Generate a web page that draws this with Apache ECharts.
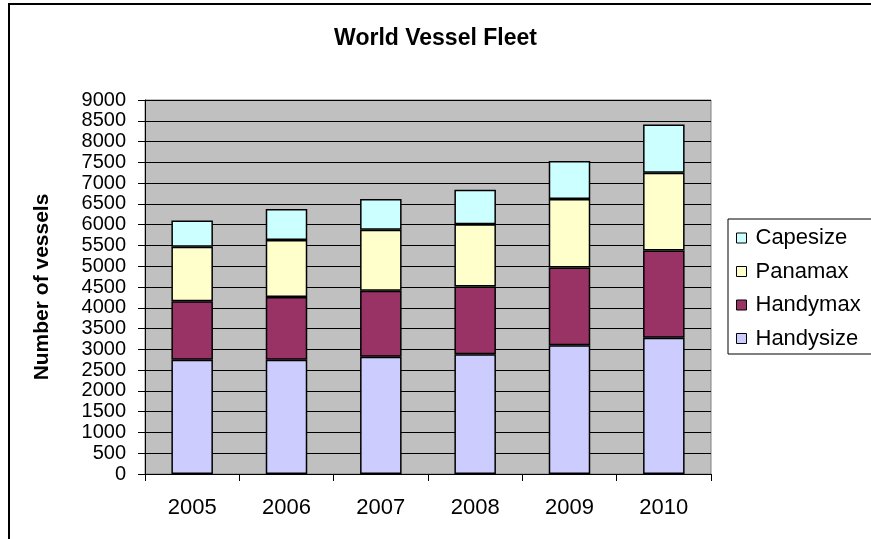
<!DOCTYPE html>
<html>
<head>
<meta charset="utf-8">
<script src="https://cdn.jsdelivr.net/npm/echarts@6/dist/echarts.min.js"></script>
<style>
  html, body { margin: 0; padding: 0; background: #fff; }
  #chart { width: 871px; height: 539px; }
</style>
</head>
<body>
<div id="chart"></div>
<script>
const years = ['2005', '2006', '2007', '2008', '2009', '2010']
const handysize = [2750, 2750, 2820, 2880, 3100, 3280]
const handymax = [1410, 1510, 1590, 1630, 1870, 2100]
const panamax = [1310, 1370, 1470, 1500, 1650, 1870]
const capesize = [630, 750, 740, 830, 910, 1160]

const font = "'Liberation Sans', Arial, sans-serif"

function stackSeries(name, data, color) {
  return {
    name: name,
    type: 'bar',
    stack: 'fleet',
    barWidth: '44%',
    data: data,
    itemStyle: { color: color, borderColor: '#000', borderWidth: 1.5 }
  }
}

const chart = echarts.init(document.getElementById('chart'))
chart.setOption({
  animation: false,
  textStyle: { fontFamily: font },
  title: {
    text: 'World Vessel Fleet',
    left: 'center',
    top: 22,
    textStyle: { fontFamily: font, fontSize: 23, fontWeight: 'bold', color: '#000' }
  },
  graphic: [
    {
      type: 'rect',
      shape: { x: 9, y: 4, width: 880, height: 560 },
      style: { fill: 'none', stroke: '#000', lineWidth: 2 }
    },
    {
      type: 'rect',
      shape: { x: 728, y: 219, width: 150, height: 135 },
      style: { fill: '#fff', stroke: '#000', lineWidth: 1 },
      z: 0
    }
  ],
  legend: {
    data: ['Capesize', 'Panamax', 'Handymax', 'Handysize'],
    orient: 'vertical',
    left: 728,
    top: 219,
    padding: [8, 8, 6, 8],
    itemWidth: 10,
    itemHeight: 10,
    itemGap: 11.5,
    icon: 'rect',
    itemStyle: { borderColor: '#000', borderWidth: 1 },
    textStyle: { fontFamily: font, fontSize: 22, color: '#000', lineHeight: 20, padding: [0, 0, 0, 4] },
    z: 5
  },
  grid: {
    left: 145,
    right: 160,
    top: 100,
    bottom: 65,
    show: true,
    backgroundColor: '#C0C0C0',
    borderColor: '#808080',
    borderWidth: 1
  },
  xAxis: {
    type: 'category',
    data: years,
    axisLine: { lineStyle: { color: '#000', width: 1 } },
    axisTick: { show: true, length: 7, lineStyle: { color: '#000' } },
    axisLabel: { fontFamily: font, fontSize: 22, color: '#000', margin: 23 }
  },
  yAxis: {
    type: 'value',
    min: 0,
    max: 9000,
    interval: 500,
    name: 'Number of vessels',
    nameLocation: 'middle',
    nameRotate: 90,
    nameGap: 92,
    nameTextStyle: { fontFamily: font, fontSize: 21, fontWeight: 'bold', color: '#000' },
    axisLine: { show: true, lineStyle: { color: '#000', width: 1 } },
    axisTick: { show: true, length: 7, lineStyle: { color: '#000' } },
    axisLabel: {
      fontFamily: font, fontSize: 20, color: '#000', margin: 19,
      formatter: v => String(v)
    },
    splitLine: { lineStyle: { color: '#000', width: 1 } }
  },
  series: [
    stackSeries('Handysize', handysize, '#CCCCFF'),
    stackSeries('Handymax', handymax, '#993366'),
    stackSeries('Panamax', panamax, '#FFFFCC'),
    stackSeries('Capesize', capesize, '#CCFFFF')
  ]
})
</script>
</body>
</html>
